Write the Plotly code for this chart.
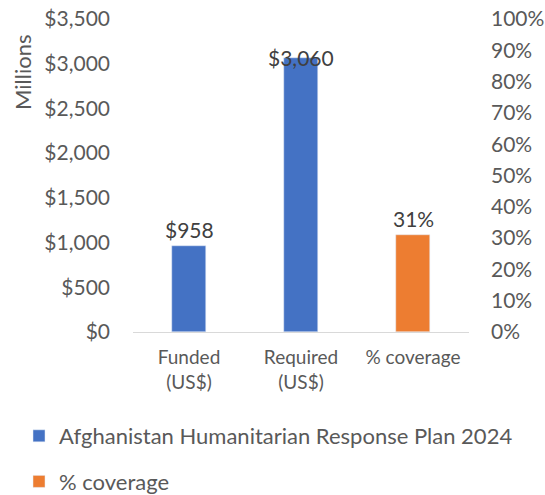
import plotly.graph_objects as go

categories = ["Funded<br>(US$)", "Required<br>(US$)", "% coverage"]
usd_labels = categories[:2]
usd_values = [958, 3060]
coverage_label = categories[2]
coverage_values = [0.31]
usd_text = ["$958", "$3,060"]
coverage_text = ["31%"]
left_ticks = [0, 500, 1000, 1500, 2000, 2500, 3000, 3500]
left_ticktext = ["$0", "$500", "$1,000", "$1,500", "$2,000", "$2,500", "$3,000", "$3,500"]
right_ticks = [i / 10 for i in range(11)]
right_ticktext = [f"{i*10}%" for i in range(11)]

BLUE = "#4472C4"
ORANGE = "#ED7D31"
GREY = "#595959"
FONT = "Lato, Open Sans, sans-serif"

fig = go.Figure()
fig.add_trace(go.Bar(x=usd_labels, y=usd_values, name="Afghanistan Humanitarian Response Plan 2024",
                     marker_color=BLUE, width=0.31, legendgroup="a", yaxis="y"))
fig.add_trace(go.Bar(x=[coverage_label], y=coverage_values, name="% coverage",
                     marker_color=ORANGE, width=0.31, legendgroup="b", yaxis="y2"))

for x, y, t, ys in zip(usd_labels, usd_values, usd_text, [2, -14]):
    fig.add_annotation(x=x, y=y, text=t, showarrow=False, yanchor="bottom", yshift=ys,
                       font=dict(size=21, color="#404040", family=FONT))
fig.add_annotation(x=coverage_label, y=coverage_values[0], yref="y2", text=coverage_text[0],
                   showarrow=False, yanchor="bottom", yshift=2,
                   font=dict(size=21, color="#404040", family=FONT))
fig.add_annotation(x=(22 - 133) / 336, y=1 - (73 - 19) / 313, xref="paper", yref="paper",
                   xanchor="center", yanchor="middle",
                   text="Millions", showarrow=False, textangle=-90,
                   font=dict(size=22, color=GREY, family=FONT))

fig.update_layout(
    width=545, height=495,
    margin=dict(l=133, r=76, t=19, b=163, autoexpand=False),
    paper_bgcolor="white", plot_bgcolor="white",
    barmode="overlay", bargap=0,
    font=dict(family=FONT, color=GREY, size=21),
    xaxis=dict(categoryorder="array", categoryarray=categories, showline=True,
               linecolor="#D9D9D9", linewidth=1, ticks="", tickfont=dict(size=19),
               ticklabelstandoff=8, range=[-0.5, 2.5], automargin=False),
    yaxis=dict(range=[0, 3500], tickvals=left_ticks, ticktext=left_ticktext,
               showgrid=False, zeroline=False, ticks="", ticklabelstandoff=22, automargin=False,
               ticklabeloverflow="allow"),
    yaxis2=dict(range=[0, 1], tickvals=right_ticks, ticktext=right_ticktext, overlaying="y",
                side="right", showgrid=False, zeroline=False, ticks="", ticklabelstandoff=21,
                automargin=False, ticklabeloverflow="allow"),
    showlegend=True,
    legend=dict(x=(19 - 133) / 336, y=1 - (415 - 19) / 313, xanchor="left", yanchor="top",
                orientation="v", tracegroupgap=14, font=dict(size=22, color=GREY),
                itemwidth=30),
)

fig.write_html("out.html", config={"displayModeBar": False},
               post_script="document.body.style.margin='0';")
